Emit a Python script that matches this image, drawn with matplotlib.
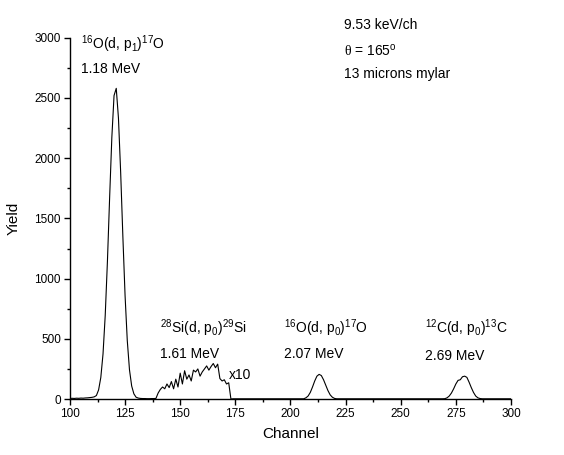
import matplotlib
matplotlib.use("Agg")
import matplotlib.pyplot as plt
from matplotlib.ticker import MultipleLocator

plt.rcParams['font.family'] = ['Liberation Sans', 'DejaVu Sans']
plt.rcParams['mathtext.fontset'] = 'custom'
plt.rcParams['mathtext.rm'] = 'Liberation Sans'
plt.rcParams['mathtext.it'] = 'Liberation Sans:italic'
plt.rcParams['mathtext.bf'] = 'Liberation Sans:bold'
plt.rcParams['mathtext.sf'] = 'Liberation Serif'

# Spectrum data (channel, yield); Si region already multiplied by 10
channels = list(range(100, 301))
yield_bg_lo = [5, 6, 5, 7, 6, 8, 7, 9, 10, 12, 14]                      # 100-110
yield_main = [18, 29, 76, 179, 374, 694, 1143, 1673, 2172, 2520, 2580,
              2333, 1884, 1350, 860, 486, 243, 108, 43, 15]              # 111-130
yield_gap1 = [8, 5, 4, 4, 3, 3, 4, 4]                                    # 131-138
yield_si = [5, 50, 80, 100, 85, 125, 95, 145, 85, 165, 100, 215, 125,
            235, 165, 200, 150, 240, 225, 250, 190, 225, 250, 275, 240,
            270, 295, 260, 290, 170, 150, 160, 125, 135, 0]              # 139-173
yield_gap2 = [2] * 33                                                    # 174-206
yield_o = [10, 25, 55, 100, 150, 190, 205, 195, 160, 115, 70, 35, 15, 5] # 207-220
yield_gap3 = [2] * 49                                                    # 221-269
yield_c = [3, 10, 25, 50, 85, 125, 155, 160, 185, 190, 180, 140, 95, 55,
           25, 10, 4]                                                    # 270-286
yield_gap4 = [2] * 14                                                    # 287-300

counts = (yield_bg_lo + yield_main + yield_gap1 + yield_si + yield_gap2 +
          yield_o + yield_gap3 + yield_c + yield_gap4)

fig = plt.figure(figsize=(5.64, 4.55), dpi=100)
ax = fig.add_axes([0.124, 0.123, 0.782, 0.794])
ax.plot(channels[:len(counts)], counts, color='black', lw=0.8)

ax.set_xlim(100, 300)
ax.set_ylim(0, 3000)
ax.xaxis.set_major_locator(MultipleLocator(25))
ax.xaxis.set_minor_locator(MultipleLocator(12.5))
ax.yaxis.set_major_locator(MultipleLocator(500))
ax.yaxis.set_minor_locator(MultipleLocator(250))
for s in ['top', 'right']:
    ax.spines[s].set_visible(False)
for s in ['left', 'bottom']:
    ax.spines[s].set_linewidth(1.0)
ax.tick_params(which='major', direction='out', length=4, width=1, labelsize=8.5, pad=2.5)
ax.tick_params(which='minor', direction='out', length=2.5, width=1)
ax.set_xlabel('Channel', fontsize=11, labelpad=5)
ax.set_ylabel('Yield', fontsize=11, labelpad=10)

fs = 10
ax.text(105.2, 2945, r'$^{\mathrm{16}}$O(d, p$_{\mathrm{1}}$)$^{\mathrm{17}}$O', fontsize=fs, va='center', ha='left')
ax.text(105.2, 2740, '1.18 MeV', fontsize=fs, va='center', ha='left')
ax.text(224.5, 3109, '9.53 keV/ch', fontsize=fs, va='center', ha='left', clip_on=False)
ax.text(224.5, 2890, r'$\mathsf{\theta}$ = 165$^{\mathrm{o}}$', fontsize=fs, va='center', ha='left')
ax.text(224.5, 2700, '13 microns mylar', fontsize=fs, va='center', ha='left')
ax.text(141.0, 590, r'$^{\mathrm{28}}$Si(d, p$_{\mathrm{0}}$)$^{\mathrm{29}}$Si', fontsize=fs, va='center', ha='left')
ax.text(141.0, 370, '1.61 MeV', fontsize=fs, va='center', ha='left')
ax.text(172.0, 200, 'x10', fontsize=fs, va='center', ha='left')
ax.text(197.0, 590, r'$^{\mathrm{16}}$O(d, p$_{\mathrm{0}}$)$^{\mathrm{17}}$O', fontsize=fs, va='center', ha='left')
ax.text(197.0, 370, '2.07 MeV', fontsize=fs, va='center', ha='left')
ax.text(261.0, 590, r'$^{\mathrm{12}}$C(d, p$_{\mathrm{0}}$)$^{\mathrm{13}}$C', fontsize=fs, va='center', ha='left')
ax.text(261.0, 355, '2.69 MeV', fontsize=fs, va='center', ha='left')

fig.savefig('out.png', dpi=100)
